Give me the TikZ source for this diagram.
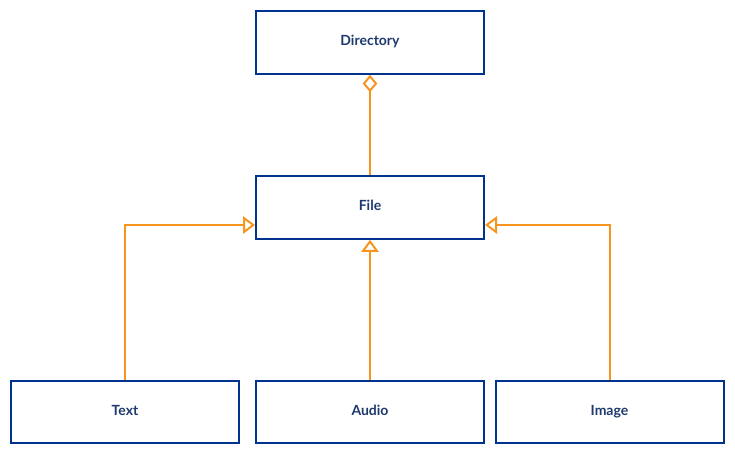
\documentclass[tikz,border=0pt]{standalone}
\usepackage{fontspec}
\setmainfont{Lato}
\usetikzlibrary{arrows.meta,calc}
\definecolor{boxblue}{HTML}{00338D}
\definecolor{txtblue}{HTML}{1F3A6E}
\definecolor{linkorange}{HTML}{F7941D}
\begin{document}
\begin{tikzpicture}[x=0.75pt,y=-0.75pt,
  cls/.style={draw=boxblue,line width=1.5pt,fill=white,minimum width=171pt,minimum height=47pt,inner sep=0pt,
    text=txtblue,font=\fontsize{10.5}{12}\selectfont\bfseries,text height=7.5pt,text depth=3pt},
  link/.style={draw=linkorange,line width=1.5pt},
  inh/.style={link,-{Triangle[open,width=13pt,length=9pt,line width=1.5pt]}},
  agg/.style={link,{Diamond[open,width=11pt,length=13pt,line width=1.5pt]}-}]
\useasboundingbox (0,0) rectangle (735,455);
\node[cls] (dir) at (370,42.5) {Directory};
\node[cls] (file) at (370,207.5) {File};
\node[cls] (text) at (125,412) {Text};
\node[cls] (audio) at (370,412) {Audio};
\node[cls] (image) at (609.5,412) {Image};
\draw[agg] (dir.south) -- (file.north);
\draw[inh] (audio.north) -- (file.south);
\draw[inh] (text.north) |- ($(file.west)+(0,17.5)$);
\draw[inh] (image.north) |- ($(file.east)+(0,17.5)$);
\end{tikzpicture}
\end{document}
